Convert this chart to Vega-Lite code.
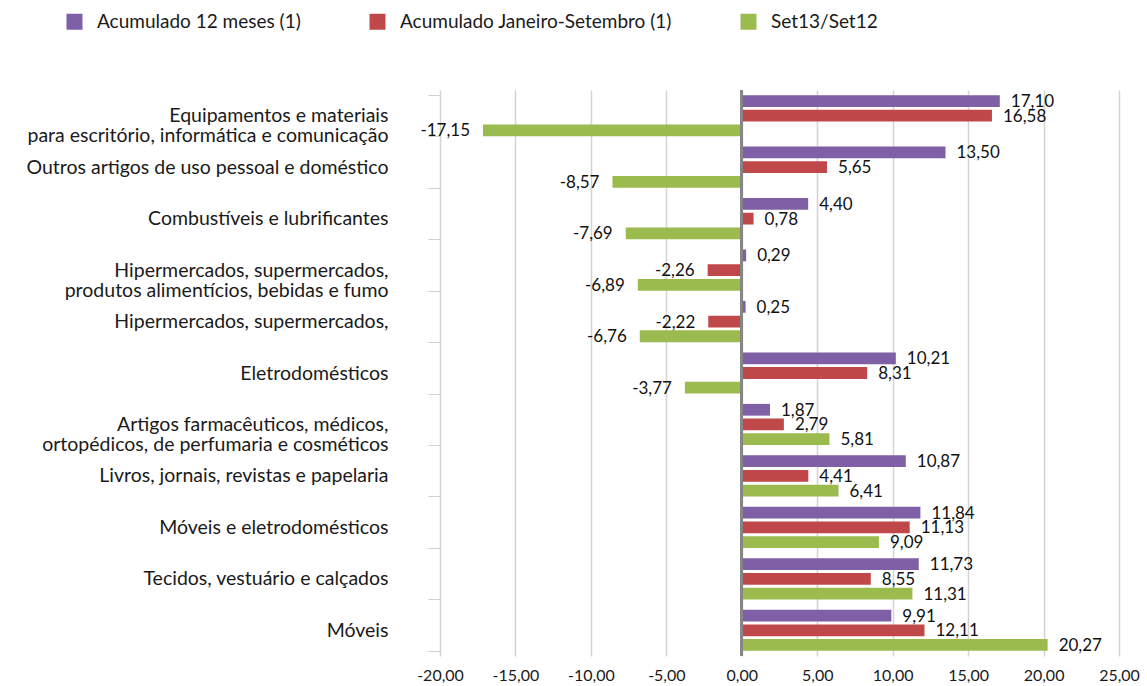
{
  "$schema": "https://vega.github.io/schema/vega-lite/v6.json",
  "width": 679,
  "height": 566,
  "autosize": {"type": "none"},
  "padding": {"left": 440, "top": 90, "right": 28, "bottom": 30},
  "config": {
    "locale": {"number": {"decimal": ",", "thousands": ".", "grouping": [3], "currency": ["", ""], "minus": "-"}},
    "view": {"stroke": null},
    "font": "Lato"
  },
  "data": {
    "values": [
      {"cat": "Equipamentos e materiais|para escritório, informática e comunicação", "series": "Acumulado 12 meses (1)", "v": 17.10},
      {"cat": "Equipamentos e materiais|para escritório, informática e comunicação", "series": "Acumulado Janeiro-Setembro (1)", "v": 16.58},
      {"cat": "Equipamentos e materiais|para escritório, informática e comunicação", "series": "Set13/Set12", "v": -17.15},
      {"cat": "Outros artigos de uso pessoal e doméstico", "series": "Acumulado 12 meses (1)", "v": 13.50},
      {"cat": "Outros artigos de uso pessoal e doméstico", "series": "Acumulado Janeiro-Setembro (1)", "v": 5.65},
      {"cat": "Outros artigos de uso pessoal e doméstico", "series": "Set13/Set12", "v": -8.57},
      {"cat": "Combustíveis e lubrificantes", "series": "Acumulado 12 meses (1)", "v": 4.40},
      {"cat": "Combustíveis e lubrificantes", "series": "Acumulado Janeiro-Setembro (1)", "v": 0.78},
      {"cat": "Combustíveis e lubrificantes", "series": "Set13/Set12", "v": -7.69},
      {"cat": "Hipermercados, supermercados,|produtos alimentícios, bebidas e fumo", "series": "Acumulado 12 meses (1)", "v": 0.29},
      {"cat": "Hipermercados, supermercados,|produtos alimentícios, bebidas e fumo", "series": "Acumulado Janeiro-Setembro (1)", "v": -2.26},
      {"cat": "Hipermercados, supermercados,|produtos alimentícios, bebidas e fumo", "series": "Set13/Set12", "v": -6.89},
      {"cat": "Hipermercados, supermercados,", "series": "Acumulado 12 meses (1)", "v": 0.25},
      {"cat": "Hipermercados, supermercados,", "series": "Acumulado Janeiro-Setembro (1)", "v": -2.22},
      {"cat": "Hipermercados, supermercados,", "series": "Set13/Set12", "v": -6.76},
      {"cat": "Eletrodomésticos", "series": "Acumulado 12 meses (1)", "v": 10.21},
      {"cat": "Eletrodomésticos", "series": "Acumulado Janeiro-Setembro (1)", "v": 8.31},
      {"cat": "Eletrodomésticos", "series": "Set13/Set12", "v": -3.77},
      {"cat": "Artigos farmacêuticos, médicos,|ortopédicos, de perfumaria e cosméticos", "series": "Acumulado 12 meses (1)", "v": 1.87},
      {"cat": "Artigos farmacêuticos, médicos,|ortopédicos, de perfumaria e cosméticos", "series": "Acumulado Janeiro-Setembro (1)", "v": 2.79},
      {"cat": "Artigos farmacêuticos, médicos,|ortopédicos, de perfumaria e cosméticos", "series": "Set13/Set12", "v": 5.81},
      {"cat": "Livros, jornais, revistas e papelaria", "series": "Acumulado 12 meses (1)", "v": 10.87},
      {"cat": "Livros, jornais, revistas e papelaria", "series": "Acumulado Janeiro-Setembro (1)", "v": 4.41},
      {"cat": "Livros, jornais, revistas e papelaria", "series": "Set13/Set12", "v": 6.41},
      {"cat": "Móveis e eletrodomésticos", "series": "Acumulado 12 meses (1)", "v": 11.84},
      {"cat": "Móveis e eletrodomésticos", "series": "Acumulado Janeiro-Setembro (1)", "v": 11.13},
      {"cat": "Móveis e eletrodomésticos", "series": "Set13/Set12", "v": 9.09},
      {"cat": "Tecidos, vestuário e calçados", "series": "Acumulado 12 meses (1)", "v": 11.73},
      {"cat": "Tecidos, vestuário e calçados", "series": "Acumulado Janeiro-Setembro (1)", "v": 8.55},
      {"cat": "Tecidos, vestuário e calçados", "series": "Set13/Set12", "v": 11.31},
      {"cat": "Móveis", "series": "Acumulado 12 meses (1)", "v": 9.91},
      {"cat": "Móveis", "series": "Acumulado Janeiro-Setembro (1)", "v": 12.11},
      {"cat": "Móveis", "series": "Set13/Set12", "v": 20.27}
    ]
  },
  "layer": [
    {
      "mark": {"type": "bar"},
      "encoding": {
        "y": {"field": "cat", "type": "nominal", "sort": null,
          "scale": {"paddingInner": 0.2, "paddingOuter": 0.1},
          "axis": {"title": null, "labelExpr": "split(datum.label, '|')", "labelFontSize": 19.5, "labelColor": "#1a1a1a",
            "labelLimit": 450, "labelPadding": 40, "tickSize": 12, "tickColor": "#d0d0d0", "tickBand": "extent",
            "domain": false, "labelLineHeight": 20, "labelFont": "Lato"}},
        "yOffset": {"field": "series", "type": "nominal",
          "sort": ["Acumulado 12 meses (1)", "Acumulado Janeiro-Setembro (1)", "Set13/Set12"],
          "scale": {"paddingInner": 0.2}},
        "x": {"field": "v", "type": "quantitative",
          "scale": {"domain": [-20, 25], "nice": false},
          "axis": {"title": null, "values": [-20, -15, -10, -5, 0, 5, 10, 15, 20, 25], "format": ".2f",
            "labelFontSize": 16, "labelColor": "#1a1a1a", "labelPadding": 11, "labelFlush": false, "ticks": false, "domain": false,
            "gridColor": "#d4d4d4", "gridWidth": 1.5}},
        "color": {"field": "series", "type": "nominal",
          "scale": {"domain": ["Acumulado 12 meses (1)", "Acumulado Janeiro-Setembro (1)", "Set13/Set12"],
            "range": ["#7f5fa6", "#c0484a", "#9bbb4f"]},
          "legend": {"title": null, "orient": "none", "legendX": -375, "legendY": -78, "direction": "horizontal",
            "symbolType": "square", "symbolSize": 256, "symbolStrokeWidth": 0, "labelFontSize": 19, "labelColor": "#1a1a1a",
            "labelLimit": 400, "columnPadding": 67, "labelOffset": 13}}
      }
    },
    {
      "transform": [{"filter": "datum.v >= 0"}],
      "mark": {"type": "text", "align": "left", "baseline": "middle", "dx": 11, "dy": 1, "fontSize": 17, "color": "#111"},
      "encoding": {
        "y": {"field": "cat", "type": "nominal", "sort": null},
        "yOffset": {"field": "series", "type": "nominal", "sort": ["Acumulado 12 meses (1)", "Acumulado Janeiro-Setembro (1)", "Set13/Set12"]},
        "x": {"field": "v", "type": "quantitative"},
        "text": {"field": "v", "type": "quantitative", "format": ".2f"}
      }
    },
    {
      "transform": [{"filter": "datum.v < 0"}],
      "mark": {"type": "text", "align": "right", "baseline": "middle", "dx": -13, "dy": 1, "fontSize": 17, "color": "#111"},
      "encoding": {
        "y": {"field": "cat", "type": "nominal", "sort": null},
        "yOffset": {"field": "series", "type": "nominal", "sort": ["Acumulado 12 meses (1)", "Acumulado Janeiro-Setembro (1)", "Set13/Set12"]},
        "x": {"field": "v", "type": "quantitative"},
        "text": {"field": "v", "type": "quantitative", "format": ".2f"}
      }
    },
    {
      "mark": {"type": "rule", "color": "#868686", "strokeWidth": 2},
      "encoding": {"x": {"datum": 0}}
    }
  ]
}
